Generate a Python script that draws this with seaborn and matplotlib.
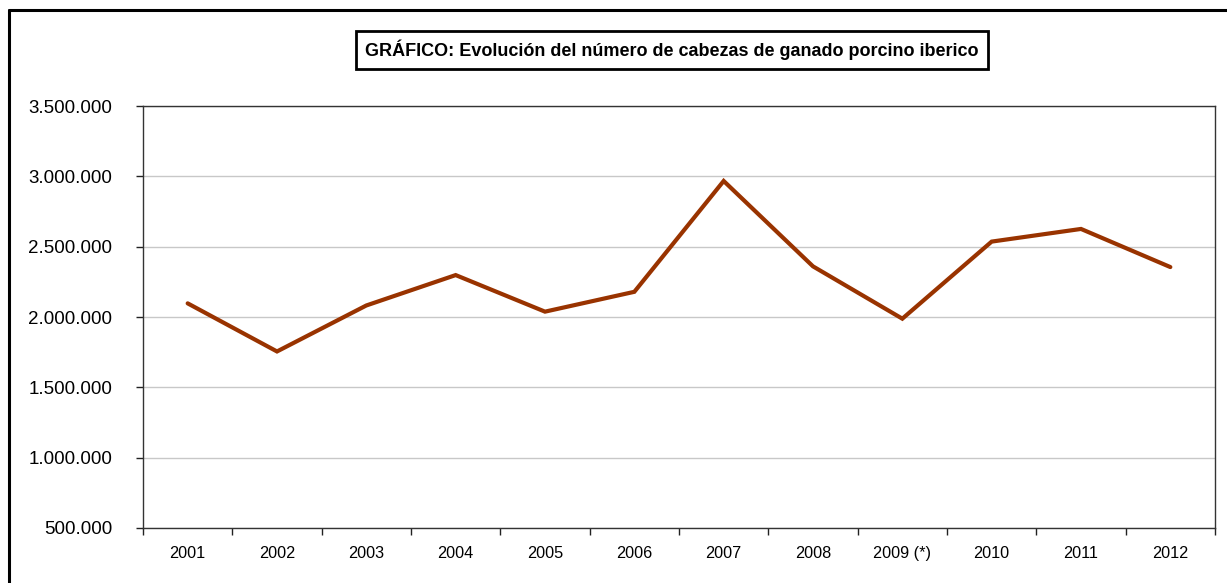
import matplotlib
matplotlib.use('Agg')
import matplotlib.pyplot as plt
from matplotlib.lines import Line2D
from matplotlib.ticker import FuncFormatter, FixedLocator
import seaborn as sns
import pandas as pd

# datos
anios = ['2001', '2002', '2003', '2004', '2005', '2006',
         '2007', '2008', '2009 (*)', '2010', '2011', '2012']
cabezas = [2097000, 1755000, 2082000, 2298000, 2038000, 2179000,
           2967000, 2360000, 1988000, 2536000, 2626000, 2355000]
y_ticks = [500000, 1000000, 1500000, 2000000, 2500000, 3000000, 3500000]
titulo = 'GRÁFICO: Evolución del número de cabezas de ganado porcino iberico'

df = pd.DataFrame({'pos': range(len(anios)), 'anio': anios, 'cabezas': cabezas})

sns.set_style('white')
plt.rcParams['font.family'] = ['Liberation Sans', 'DejaVu Sans']

W, H = 1227, 583
fig = plt.figure(figsize=(W / 100, H / 100), dpi=100)
ax = fig.add_axes([143 / W, 1 - 528 / H, (1215 - 143) / W, (528 - 106) / H])

sns.lineplot(data=df, x='pos', y='cabezas', ax=ax, color='#993300',
             linewidth=3, solid_joinstyle='miter')

ax.set_xlim(-0.5, len(anios) - 0.5)
ax.set_ylim(y_ticks[0], y_ticks[-1])
ax.set_yticks(y_ticks)
ax.yaxis.set_major_formatter(FuncFormatter(lambda v, p: f'{v:,.0f}'.replace(',', '.')))
ax.set_xticks(df['pos'])
ax.set_xticklabels(anios)
ax.xaxis.set_minor_locator(FixedLocator([i - 0.5 for i in range(len(anios) + 1)]))
ax.tick_params(axis='x', which='major', length=0, pad=13, labelsize=11.7, colors='black')
ax.tick_params(axis='x', which='minor', length=5, width=1, color='#222222', direction='out', bottom=True)
ax.tick_params(axis='y', length=5, width=1, color='#222222', direction='out', left=True,
               labelsize=13.5, pad=17, labelcolor='black')
ax.set_xlabel('')
ax.set_ylabel('')
ax.grid(axis='y', color='#c8c8c8', linewidth=1)
for s in ax.spines.values():
    s.set_color('#333333')
    s.set_linewidth(1)

# marco exterior
fig.add_artist(Line2D([9 / W, 9 / W], [0, 1 - 10 / H], color='black', linewidth=2.2,
                      transform=fig.transFigure))
fig.add_artist(Line2D([9 / W, 1], [1 - 10 / H, 1 - 10 / H], color='black', linewidth=2.2,
                      transform=fig.transFigure))

fig.text(672 / W, 1 - 50 / H, titulo, ha='center', va='center', fontsize=13,
         fontweight='bold', color='black',
         bbox=dict(boxstyle='square,pad=0.5', facecolor='white', edgecolor='black', linewidth=2))

fig.savefig('out.png', dpi=100)
